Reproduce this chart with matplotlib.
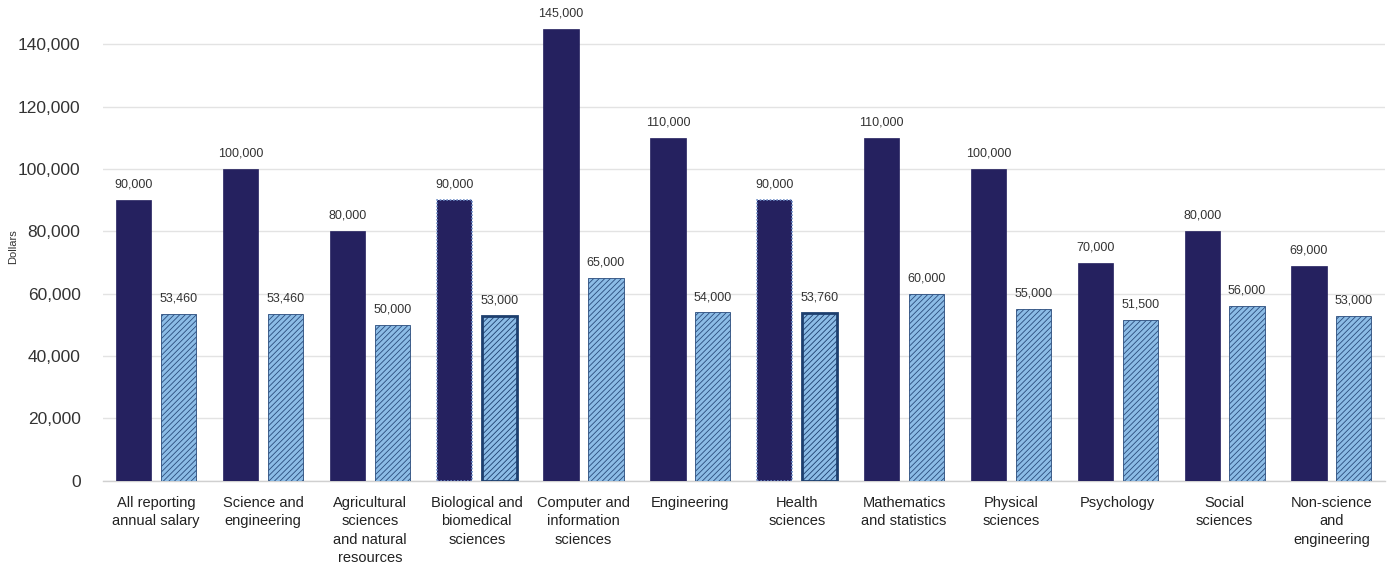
import numpy as np
import matplotlib
matplotlib.use("Agg")
from matplotlib import pyplot as plt
from matplotlib.ticker import FuncFormatter

plt.rcParams["font.family"] = ["Liberation Sans", "DejaVu Sans"]
plt.rcParams["hatch.linewidth"] = 0.6

categories = [
    "All reporting\nannual salary",
    "Science and\nengineering",
    "Agricultural\nsciences\nand natural\nresources",
    "Biological and\nbiomedical\nsciences",
    "Computer and\ninformation\nsciences",
    "Engineering",
    "Health\nsciences",
    "Mathematics\nand statistics",
    "Physical\nsciences",
    "Psychology",
    "Social\nsciences",
    "Non-science\nand\nengineering",
]
dark_values = [90000, 100000, 80000, 90000, 145000, 110000, 90000, 110000,
               100000, 70000, 80000, 69000]
light_values = [53460, 53460, 50000, 53000, 65000, 54000, 53760, 60000,
                55000, 51500, 56000, 53000]
highlighted = [3, 6]  # groups drawn with a selection-style outline
yticks = [0, 20000, 40000, 60000, 80000, 100000, 120000, 140000]

DARK = "#25215f"
LIGHT = "#8cbce6"
HATCH_EDGE = "#2a4c7c"

fig = plt.figure(figsize=(13.89, 5.67), dpi=100)
ax = fig.add_axes([0.074, 0.152, 0.923, 0.825])

x = np.arange(len(categories))
w = 0.33
off = 0.21

dark_bars = ax.bar(x - off, dark_values, w, color=DARK, edgecolor=DARK,
                   linewidth=0.5, zorder=3)
light_bars = ax.bar(x + off, light_values, w, color=LIGHT, edgecolor=HATCH_EDGE,
                    hatch="//////", linewidth=0.6, zorder=3)

# selection-style outlines on two groups
for i in highlighted:
    dark_bars[i].set_edgecolor("#6f8fc8")
    dark_bars[i].set_linestyle((0, (1, 1)))
    dark_bars[i].set_linewidth(1.2)
    light_bars[i].set_edgecolor("#1d3f6e")
    light_bars[i].set_linewidth(2.0)

for i in x:
    ax.text(i - off, dark_values[i] + 3000, f"{dark_values[i]:,}",
            ha="center", va="bottom", fontsize=9, color="#333333")
    ax.text(i + off, light_values[i] + 3000, f"{light_values[i]:,}",
            ha="center", va="bottom", fontsize=9, color="#333333")

ax.set_xlim(-0.5, len(categories) - 0.5)
ax.set_ylim(0, 150000)
ax.set_yticks(yticks)
ax.yaxis.set_major_formatter(FuncFormatter(lambda v, p: f"{int(v):,}"))
ax.set_xticks(x)
ax.set_xticklabels(categories, fontsize=10.5, color="#222222", linespacing=1.4)
ax.tick_params(axis="y", labelsize=12.5, colors="#333333", length=0, pad=16)
ax.tick_params(axis="x", length=0, pad=11)

ax.grid(axis="y", color="#e3e3e3", linewidth=1, zorder=0)
for s in ["top", "right", "left"]:
    ax.spines[s].set_visible(False)
ax.spines["bottom"].set_color("#d0d0d0")
ax.spines["bottom"].set_linewidth(1)

ax.set_ylabel("Dollars", fontsize=8, color="#333333")
ax.yaxis.set_label_coords(-0.066, 0.5)

fig.savefig("out.png", dpi=100)
